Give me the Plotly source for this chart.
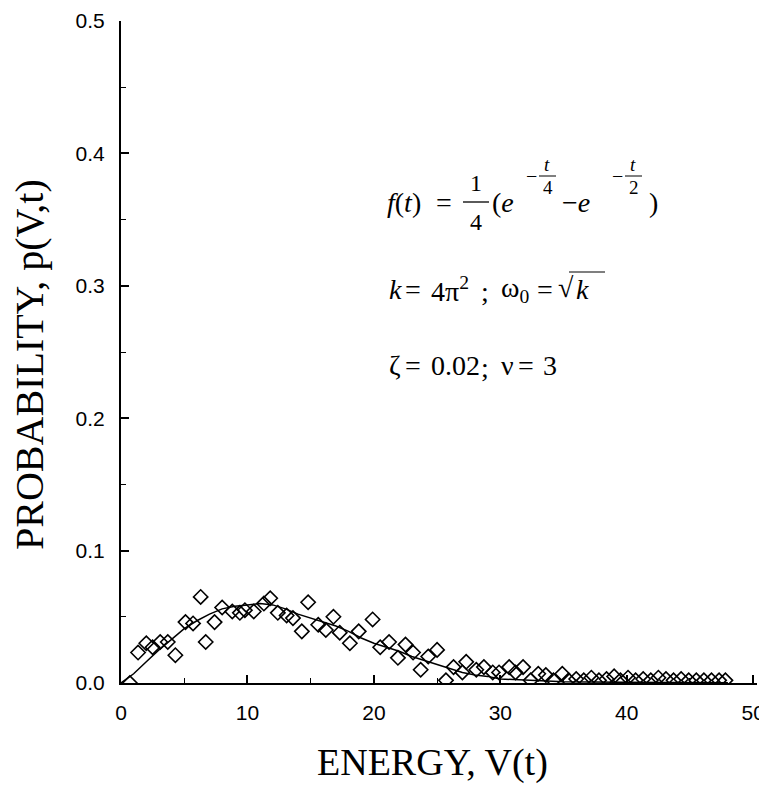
import plotly.graph_objects as go

# ---- data ----
sim_energy = [0.7, 1.35, 2.0, 2.5, 3.1, 3.7, 4.3, 5.1, 5.7, 6.3, 6.7, 7.4, 8.0, 8.8, 9.4,
              9.8, 10.5, 11.3, 11.8, 12.4, 13.1, 13.6, 14.3, 14.8, 15.6, 16.2, 16.8, 17.3,
              18.1, 18.8, 19.9, 20.5, 21.2, 21.9, 22.5, 23.1, 23.7, 24.3, 25.0, 25.7,
              26.3, 27.0, 27.3, 28.1, 28.7, 29.4, 29.9, 30.7, 31.2, 31.8, 32.4, 33.0,
              33.6, 34.2, 34.9, 35.4, 36.0, 36.6, 37.2, 37.8, 38.4, 39.0, 39.5, 40.1,
              40.7, 41.3, 41.9, 42.5, 43.1, 43.7, 44.3, 44.9, 45.5, 46.1, 46.7, 47.3, 47.8]
sim_prob = [0.000, 0.023, 0.030, 0.027, 0.031, 0.031, 0.021, 0.046, 0.045, 0.065, 0.031,
            0.046, 0.057, 0.054, 0.053, 0.055, 0.054, 0.060, 0.064, 0.053, 0.051, 0.049,
            0.039, 0.061, 0.044, 0.040, 0.050, 0.038, 0.030, 0.039, 0.048, 0.027,
            0.031, 0.019, 0.029, 0.023, 0.010, 0.020, 0.025, 0.002, 0.012, 0.008, 0.016,
            0.010, 0.012, 0.008, 0.008, 0.012, 0.008, 0.012, 0.002, 0.007, 0.006, 0.002,
            0.007, 0.002, 0.003, 0.002, 0.004, 0.002, 0.003, 0.005, 0.002, 0.004, 0.002,
            0.003, 0.002, 0.004, 0.003, 0.002, 0.003, 0.002, 0.002, 0.002, 0.002, 0.002, 0.002]

theory_energy = [0, 1, 2, 3, 4, 5, 6, 7, 8, 9, 10, 11, 12, 13, 14, 15, 16, 17, 18, 19, 20,
                 21, 22, 23, 24, 25, 26, 27, 28, 29, 30, 32, 35, 40, 48]
theory_prob = [0.0, 0.007, 0.016, 0.025, 0.033, 0.041, 0.047, 0.052, 0.056, 0.058, 0.059,
               0.060, 0.059, 0.056, 0.052, 0.049, 0.046, 0.043, 0.039, 0.034, 0.030,
               0.027, 0.024, 0.020, 0.017, 0.014, 0.011, 0.008, 0.006, 0.005, 0.003,
               0.002, 0.001, 0.0005, 0.0002]

x_ticks = [0, 10, 20, 30, 40, 50]
y_ticks = [0.0, 0.1, 0.2, 0.3, 0.4, 0.5]
y_tick_text = ["0.0", "0.1", "0.2", "0.3", "0.4", "0.5"]

# ---- layout geometry (page body adds an 8px margin) ----
OFF = 8
W, H = 767 - OFF, 789 - OFF
L, R, T = 121 - OFF, 10, 21 - OFF
PH = 662
B = H - T - PH
PW = W - L - R


def px(xp):  # reference-screen x pixel -> paper
    return (xp - OFF - L) / PW


def py(yp):  # reference-screen y pixel -> paper
    return (T + PH - (yp - OFF)) / PH


SERIF = "Liberation Serif, Times New Roman, serif"
SANS = "Liberation Sans, Arial, sans-serif"

fig = go.Figure()
fig.add_trace(go.Scatter(x=theory_energy, y=theory_prob, mode="lines",
                         line=dict(color="black", width=1.5), showlegend=False,
                         hoverinfo="skip"))
fig.add_trace(go.Scatter(x=sim_energy, y=sim_prob, mode="markers",
                         marker=dict(symbol="diamond-open", size=11, color="black",
                                     line=dict(width=1.6, color="black")),
                         showlegend=False))

annotations = []
shapes = []


def txt(s, x, y, size=28, xanchor="left", yanchor="middle", font=SERIF):
    annotations.append(dict(text=s, x=px(x), y=py(y), xref="paper", yref="paper",
                            showarrow=False, xanchor=xanchor, yanchor=yanchor,
                            font=dict(family=font, size=size, color="black")))


def hline(x0, x1, y, w=1.3):
    shapes.append(dict(type="line", xref="paper", yref="paper", x0=px(x0), x1=px(x1),
                       y0=py(y), y1=py(y), line=dict(color="black", width=w)))


# f(t) = 1/4 (e^{-t/4} - e^{-t/2})
txt("<i>f</i>(<i>t</i>)", 385, 202)
txt("=", 444, 202, xanchor="center")
txt("1", 476, 183, size=24, xanchor="center")
hline(463, 489, 202)
txt("4", 476, 222, size=24, xanchor="center")
txt("(<i>e</i>", 490, 202)
txt("−", 531, 176, size=20, xanchor="center")
txt("<i>t</i>", 547, 164, size=19, xanchor="center")
hline(539, 556, 176, w=1)
txt("4", 548, 188, size=19, xanchor="center")
txt("−<i>e</i>", 560, 202)
txt("−", 617, 176, size=20, xanchor="center")
txt("<i>t</i>", 633, 164, size=19, xanchor="center")
hline(625, 642, 176, w=1)
txt("2", 634, 188, size=19, xanchor="center")
txt(")", 647, 202)

# k = 4 pi^2 ; omega0 = sqrt(k)
LINE2 = 289
txt("<i>k</i>", 387, LINE2)
txt("=", 413, LINE2, xanchor="center")
txt("4π<sup>2</sup>", 429, LINE2)
txt(";", 485, LINE2 + 2, xanchor="center")
txt("ω<sub>0</sub>", 499, LINE2)
txt("=", 545, LINE2, xanchor="center")
txt("√", 556, LINE2 - 2)
txt("<i>k</i>", 574, LINE2)
hline(569, 605, 272, w=1.2)

# zeta, nu
LINE3 = 365
txt("ζ", 387, LINE3)
txt("=", 413, LINE3, xanchor="center")
txt("0.02", 429, LINE3)
txt(";", 485, LINE3 + 2, xanchor="center")
txt("ν", 499, LINE3)
txt("=", 526, LINE3, xanchor="center")
txt("3", 541, LINE3)

# axis titles
txt("ENERGY, V(t)", 432, 762, size=38, xanchor="center", font=SERIF)
annotations.append(dict(text="PROBABILITY, p(V,t)", x=px(29), y=py(365), xref="paper",
                        yref="paper", showarrow=False, xanchor="center", yanchor="middle",
                        textangle=-90, font=dict(family=SERIF, size=40, color="black")))

fig.update_layout(
    width=W, height=H,
    margin=dict(l=L, r=R, t=T, b=B, pad=0),
    paper_bgcolor="white", plot_bgcolor="white",
    annotations=annotations, shapes=shapes,
    xaxis=dict(range=[0, 50.3], tickvals=x_ticks, ticks="inside", ticklen=8,
               tickwidth=1.5, tickcolor="black", showline=True, linecolor="black",
               linewidth=2, showgrid=False, zeroline=False, automargin=False,
               ticklabeloverflow="allow",
               tickfont=dict(family=SANS, size=21, color="black"),
               ticklabelstandoff=10,
               minor=dict(tickvals=[5, 15, 25, 35, 45], ticks="inside", ticklen=5,
                          tickcolor="black", tickwidth=1.2, showgrid=False)),
    yaxis=dict(range=[0, 0.5], tickvals=y_ticks, ticktext=y_tick_text, ticks="inside",
               ticklen=8, tickwidth=1.5, tickcolor="black", showline=True,
               linecolor="black", linewidth=2, showgrid=False, zeroline=False,
               automargin=False, ticklabeloverflow="allow",
               tickfont=dict(family=SANS, size=21, color="black"),
               ticklabelstandoff=10,
               minor=dict(tickvals=[0.05, 0.15, 0.25, 0.35, 0.45], ticks="inside",
                          ticklen=5, tickcolor="black", tickwidth=1.2, showgrid=False)),
)

fig.write_html("out.html")
